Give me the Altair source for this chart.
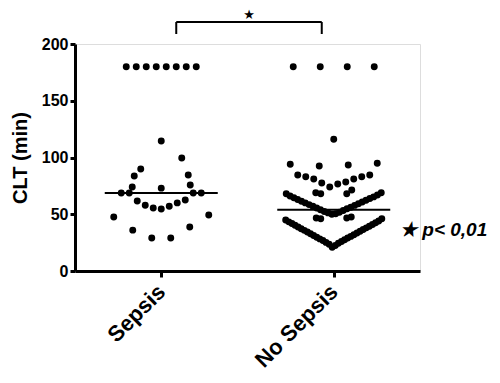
import altair as alt
import pandas as pd

groups = ["Sepsis", "No Sepsis"]
centers = [0.5, 1.5]

# ---- Sepsis (CLT, min), grouped by visual row cluster
sepsis_top = [180, 180, 180, 180, 180, 180, 180, 180]
sepsis_peak = [114.5]
sepsis_high = [89.9, 99.6]
sepsis_row84 = [83.7, 84.6]
sepsis_row74 = [73.0, 74.0, 75.8]
sepsis_mid = [54.6, 55.5, 57.0, 58.0, 60.0, 61.7, 62.5, 68.7, 68.7, 68.7, 68.7]
sepsis_low = [29.0, 29.0, 36.0, 38.8, 47.6, 49.3]

# ---- No Sepsis
nosepsis_top = [180, 180, 180, 180]
nosepsis_peak = [116.0]
nosepsis_row93 = [92.5, 93.4, 94.0, 95.0]
nosepsis_v = [74.0, 76.7, 77.5, 78.4, 81.0, 81.0, 83.0, 83.0, 84.6, 84.6]
nosepsis_pairs = [68.0, 68.0, 69.0, 71.4]
nosepsis_upper = [50.0, 50.5, 51.2, 51.8, 52.5, 53.3, 54.0, 54.8, 55.5, 56.2,
                  57.0, 57.8, 58.5, 59.3, 60.0, 60.8, 61.5, 62.3, 63.0, 63.8,
                  64.5, 65.3, 66.0, 67.0, 68.0, 69.0]
nosepsis_pairs_low = [46.0, 46.7, 46.7, 47.5]
nosepsis_lower = [21.0, 22.5, 23.5, 24.5, 25.2, 26.0, 26.8, 27.5, 28.3, 29.0,
                  29.8, 30.5, 31.3, 32.0, 32.8, 33.5, 34.3, 35.0, 35.8, 36.5,
                  37.3, 38.0, 38.8, 39.5, 40.3, 41.0, 41.8, 42.5, 43.3, 44.0,
                  45.0, 46.0]

# layout: (values, horizontal spacing in px, central gap in px)
clusters = {
    "Sepsis": [(sepsis_top, 10, 0), (sepsis_peak, 0, 0), (sepsis_high, 41, 0),
               (sepsis_row84, 54, 0), (sepsis_row74, 29, 0), (sepsis_mid, 8, 0),
               (sepsis_low, 19, 0)],
    "No Sepsis": [(nosepsis_top, 27, 0), (nosepsis_peak, 0, 0), (nosepsis_row93, 29, 0),
                  (nosepsis_v, 8, 0), (nosepsis_pairs, 5, 26), (nosepsis_upper, 3.8, 0),
                  (nosepsis_pairs_low, 4.5, 26), (nosepsis_lower, 3.1, 0)],
}

W, H = 345, 227
PX = W / 2.0  # pixels per x unit
PY = H / 200.0  # pixels per y unit


def place(vals, spacing, gap):
    v = sorted(vals)
    n = len(v)
    if gap > 0:
        offs = [(gap / 2 + (k // 2) * spacing) * (-1 if k % 2 == 0 else 1) for k in range(n)]
    else:
        slots = [(k - (n - 1) / 2) * spacing for k in range(n)]
        slots.sort(key=lambda s: (abs(s), s))
        offs = slots
    return list(zip(v, offs))


rows = []
for g, c in zip(groups, centers):
    for vals, sp, gap in clusters[g]:
        for val, off in place(vals, sp, gap):
            rows.append({"group": g, "value": val, "center": c, "x": c + off / PX})
df = pd.DataFrame(rows)

FONT = "Liberation Sans"
xscale = alt.Scale(domain=[0, 2], nice=False, zero=False)
yscale = alt.Scale(domain=[0, 200], nice=False)

points = alt.Chart(df).mark_circle(size=48, color="black", opacity=1).encode(
    x=alt.X("x:Q", scale=xscale, axis=alt.Axis(
        values=centers, labelExpr="datum.value < 1 ? 'Sepsis' : 'No Sepsis'",
        title=None, grid=False, labelAngle=-45, labelAlign="right", labelBaseline="middle",
        labelFontSize=22, labelFontWeight="bold", labelFont=FONT, labelColor="black",
        labelPadding=11, tickSize=6, tickWidth=3, tickColor="black",
        domainWidth=3, domainColor="black")),
    y=alt.Y("value:Q", scale=yscale, axis=alt.Axis(
        values=[0, 50, 100, 150, 200], title="CLT (min)", grid=False,
        titleFontSize=20, titleFontWeight="bold", titleFont=FONT, titleColor="black",
        titlePadding=11, labelFontSize=16, labelFontWeight="bold", labelFont=FONT,
        labelColor="black", labelPadding=2, tickSize=5, tickWidth=3, tickColor="black",
        domainWidth=3, domainColor="black")),
)

half = 56.5 / PX
medians = alt.Chart(df).transform_aggregate(
    med="median(value)", groupby=["group", "center"]
).transform_calculate(
    x1=f"datum.center - {half}", x2=f"datum.center + {half}"
).mark_rule(color="black", strokeWidth=2).encode(
    x=alt.X("x1:Q", scale=xscale), x2="x2:Q", y=alt.Y("med:Q", scale=yscale)
)

bl = centers[0] + 15 / PX
br = centers[1] - 12 / PX
y_top = 200 + 22 / PY
y_leg = 200 + 10 / PY
bracket_df = pd.DataFrame({
    "x": [bl, bl, br], "x2": [br, bl, br],
    "y": [y_top, y_top, y_top], "y2": [y_top, y_leg, y_leg],
})
bracket = alt.Chart(bracket_df).mark_rule(color="black", strokeWidth=2).encode(
    x=alt.X("x:Q", scale=xscale), x2="x2:Q", y=alt.Y("y:Q", scale=yscale), y2="y2:Q"
)

star = alt.Chart(pd.DataFrame({"x": [(bl + br) / 2], "y": [200 + 29 / PY], "t": ["★"]})).mark_text(
    fontSize=13, font="DejaVu Sans", color="black", align="center", baseline="middle"
).encode(x=alt.X("x:Q", scale=xscale), y=alt.Y("y:Q", scale=yscale), text="t:N")

ptext = alt.Chart(pd.DataFrame({"x": [(400 - 75) / PX], "y": [36], "t": ["★ p< 0,01"]})).mark_text(
    fontSize=19, font=FONT, fontWeight="bold", fontStyle="italic", color="black",
    align="left", baseline="middle"
).encode(x=alt.X("x:Q", scale=xscale), y=alt.Y("y:Q", scale=yscale), text="t:N")

chart = alt.layer(points, medians, bracket, star, ptext).properties(
    width=W, height=H,
    autosize=alt.AutoSizeParams(type="none"),
    padding={"left": 67, "top": 36, "right": 72, "bottom": 104},
).configure_view(stroke=None).configure(background="white")

chart.save("out.html", embed_options={"renderer": "svg", "actions": False})
